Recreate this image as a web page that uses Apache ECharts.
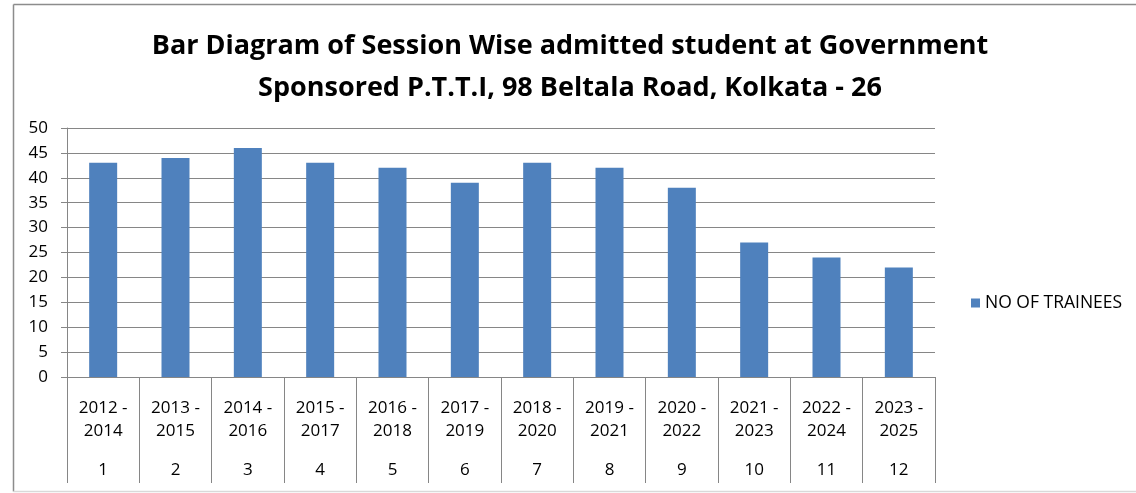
<!DOCTYPE html>
<html>
<head>
<meta charset="utf-8">
<script src="https://cdn.jsdelivr.net/npm/echarts@6/dist/echarts.min.js"></script>
<style>
  html, body { margin: 0; padding: 0; background: #fff; }
  #main { width: 1136px; height: 493px; }
</style>
</head>
<body>
<div id="main"></div>
<script>
// session wise admissions
var sessions = ['2012 -\n2014', '2013 -\n2015', '2014 -\n2016', '2015 -\n2017', '2016 -\n2018', '2017 -\n2019',
  '2018 -\n2020', '2019 -\n2021', '2020 -\n2022', '2021 -\n2023', '2022 -\n2024', '2023 -\n2025'];
var serialNos = ['1', '2', '3', '4', '5', '6', '7', '8', '9', '10', '11', '12'];
var trainees = [43, 44, 46, 43, 42, 39, 43, 42, 38, 27, 24, 22];
var yTicks = [0, 5, 10, 15, 20, 25, 30, 35, 40, 45, 50];

var fontFam = '"Open Sans", sans-serif';
var gridColor = '#868686';

var myChart = echarts.init(document.getElementById('main'));
var option = {
  animation: false,
  backgroundColor: '#fff',
  title: {
    text: 'Bar Diagram of Session Wise admitted student at Government\nSponsored P.T.T.I, 98 Beltala Road, Kolkata - 26',
    left: 565,
    top: 20,
    textAlign: 'center',
    textStyle: {
      fontFamily: fontFam,
      fontSize: 27,
      fontWeight: 'bold',
      color: '#000',
      lineHeight: 42,
      align: 'center'
    }
  },
  legend: {
    left: 966,
    top: 289,
    icon: 'rect',
    itemWidth: 9,
    itemHeight: 9,
    itemGap: 6,
    textStyle: { fontFamily: fontFam, fontSize: 17.5, color: '#000' },
    data: ['NO OF TRAINEES']
  },
  grid: {
    left: 67,
    right: 201,
    top: 128,
    bottom: 116,
    containLabel: false
  },
  xAxis: [{
    type: 'category',
    data: sessions,
    position: 'bottom',
    axisLine: { show: true, lineStyle: { color: gridColor, width: 1 } },
    axisTick: { show: true, interval: 0, length: 106, lineStyle: { color: gridColor } },
    axisLabel: {
      interval: 0,
      margin: 20,
      fontFamily: fontFam,
      fontSize: 17,
      lineHeight: 23,
      color: '#000'
    }
  }, {
    type: 'category',
    data: serialNos,
    position: 'bottom',
    axisLine: { show: false },
    axisTick: { show: false },
    axisLabel: {
      interval: 0,
      margin: 85,
      fontFamily: fontFam,
      fontSize: 17,
      color: '#000'
    }
  }],
  yAxis: {
    type: 'value',
    min: yTicks[0],
    max: yTicks[yTicks.length - 1],
    interval: 5,
    axisLine: { show: true, lineStyle: { color: gridColor } },
    axisTick: { show: true, length: 6, lineStyle: { color: gridColor } },
    splitLine: { show: true, lineStyle: { color: gridColor, width: 1 } },
    axisLabel: {
      margin: 19,
      fontFamily: fontFam,
      fontSize: 17,
      color: '#000'
    }
  },
  graphic: [
    { type: 'line', shape: { x1: 13.5, y1: 4.5, x2: 1136, y2: 4.5 }, style: { stroke: '#8c8c8c', lineWidth: 1.5 }, silent: true },
    { type: 'line', shape: { x1: 13.5, y1: 4.5, x2: 13.5, y2: 491.5 }, style: { stroke: '#8c8c8c', lineWidth: 1.5 }, silent: true },
    { type: 'line', shape: { x1: 13.5, y1: 491.5, x2: 1136, y2: 491.5 }, style: { stroke: '#d9d9d9', lineWidth: 1.5 }, silent: true }
  ],
  series: [{
    name: 'NO OF TRAINEES',
    type: 'bar',
    xAxisIndex: 0,
    data: trainees,
    barWidth: 28,
    itemStyle: { color: '#4F81BD' }
  }]
};
myChart.setOption(option);
</script>
</body>
</html>
